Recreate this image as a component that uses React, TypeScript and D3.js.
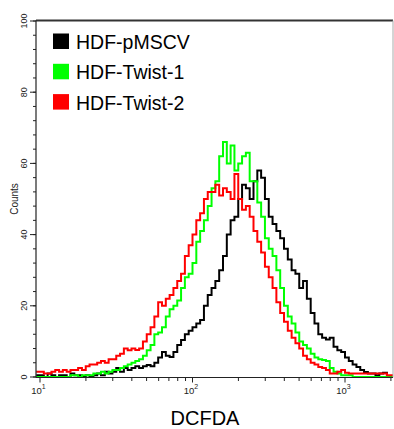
import React from "react";
import * as d3 from "d3";

// ---- Data ----
const LOG_START = 0.975; // log10 of first bin's lower edge
const LOG_STEP = 0.025;  // bin width in log10 units

const seriesNames = ["HDF-pMSCV", "HDF-Twist-1", "HDF-Twist-2"];
const seriesColors = ["#000000", "#00ff00", "#ff0000"];

const pMSCV = [
  0.5, 0.5, 0, 1, 0.5, 0, 0.5, 0.5, 0, 1,
  0.5, 0.5, 0, 0.5, 0, 0.5, 1, 0.5, 1.5, 1,
  1.5, 2.5, 1.5, 2.5, 2, 2.5, 3, 2.5, 3, 3.4,
  3, 4, 5.5, 7, 6, 5.6, 7, 9, 10.4, 12,
  13, 14, 15, 16, 20, 23, 25, 27, 30, 34,
  40, 44, 45, 50, 54, 53, 50, 55, 58, 56,
  50, 45, 43, 41, 39, 36, 33, 30, 29, 25,
  27, 22, 18, 15, 12, 11, 10.5, 11, 8.5, 7.5,
  7, 5.5, 4.5, 3.5, 2.8, 2, 1.4, 1, 1, 0.5,
  1, 1.2, 0.3, 0,
];

const twist1 = [
  0, 0, 0, 0, 0, 0, 0, 0, 0, 0.5,
  0.5, 0, 0.5, 0.5, 0.5, 1, 1, 1.5, 1, 1.5,
  2, 2, 2.5, 3, 3.5, 4, 4.5, 5, 6, 7.5,
  9, 12, 12.5, 14, 17, 19, 20, 21.5, 25, 28,
  29, 32, 38, 41, 44, 48, 53, 55, 62, 66,
  60, 65, 58, 60, 62, 63, 55, 55, 49, 45,
  39, 36, 34, 30, 25, 20, 17, 15, 12.5, 10,
  9, 8, 6.5, 5.5, 5, 4.8, 4.5, 2.5, 1.5, 1,
  0.5, 0.5, 0.5, 0, 0, 0, 0, 0, 0, 0,
  0, 0, 0, 0,
];

const twist2 = [
  1.5, 1.5, 1, 1, 1.5, 2, 1.5, 2, 1.5, 2,
  2, 2.5, 2, 3, 3.5, 3.5, 4, 4.5, 4, 5,
  5, 6, 6.5, 8, 7.5, 8, 7.6, 8, 10, 12,
  14, 17, 21, 20, 22, 23, 25, 27, 29, 34,
  37, 40, 44, 46, 50, 52, 52, 54, 51, 53,
  52, 50, 57, 50, 47, 48, 45, 41, 38, 35,
  31, 28, 25, 21, 18, 15.5, 13, 11, 9.5, 8,
  6, 5, 4, 3.5, 2.8, 2.5, 2, 1, 1, 1.5,
  2, 1.2, 1, 1, 1, 1, 1, 1, 1, 1,
  1, 1, 0.5, 0.5,
];

const seriesValues = [pMSCV, twist1, twist2];

const yMajorTicks = [0, 20, 40, 60, 80, 100];
const yMinorTicks = d3.range(0, 101, 4);
const xMajorTicks = [10, 100, 1000];
const xMinorTicks = [20, 30, 40, 50, 60, 70, 80, 90, 200, 300, 400, 500, 600, 700, 800, 900, 2000];
const xMajorExp = ["1", "2", "3"];

// ---- Layout ----
const W = 394;
const H = 429;
const plotLeft = 36;
const plotRight = 393;
const plotTop = 20.5;
const plotBottom = 377.5;
const FONT = "'Liberation Sans', Arial, Helvetica, sans-serif";

export default function App() {
  const x = d3.scaleLog().domain([10, 1000]).range([40, 345]);
  const y = d3.scaleLinear().domain([0, 100]).range([377, 21]);

  const nBins = pMSCV.length;
  const edges = d3.range(nBins + 1).map((i) => Math.pow(10, LOG_START + i * LOG_STEP));

  const line = d3
    .line<[number, number]>()
    .x((d) => x(d[0]))
    .y((d) => y(d[1]))
    .curve(d3.curveStepAfter);

  const paths = seriesValues.map((vals) => {
    const pts: [number, number][] = vals.map((v, i) => [edges[i], v]);
    pts.push([edges[vals.length], vals[vals.length - 1]]);
    return line(pts) || "";
  });

  return (
    <svg
      width={W}
      height={H}
      style={{ position: "absolute", left: 0, top: 0, background: "#fff" }}
      fontFamily={FONT}
    >
      <defs>
        <clipPath id="plotClip">
          <rect x={plotLeft} y={plotTop - 1} width={plotRight - plotLeft} height={plotBottom - plotTop + 0.5} />
        </clipPath>
      </defs>
      <rect x={0} y={0} width={W} height={H} fill="#fff" />

      {/* histograms */}
      <g clipPath="url(#plotClip)">
        {paths.map((p, i) => (
          <path key={i} d={p} fill="none" stroke={seriesColors[i]} strokeWidth={2} strokeLinejoin="miter" />
        ))}
      </g>

      {/* frame */}
      <line x1={plotLeft} x2={plotRight} y1={plotTop} y2={plotTop} stroke="#333" strokeWidth={1.8} />
      <line x1={plotRight} x2={plotRight} y1={plotTop} y2={plotBottom} stroke="#aaa" strokeWidth={1} />
      <line x1={plotLeft} x2={plotLeft} y1={plotTop} y2={plotBottom} stroke="#222" strokeWidth={1.2} />
      <line x1={plotLeft} x2={plotRight} y1={plotBottom} y2={plotBottom} stroke="#222" strokeWidth={1.2} />

      {/* y ticks */}
      {yMinorTicks.map((t) => (
        <line key={"ym" + t} x1={plotLeft - 3} x2={plotLeft} y1={y(t)} y2={y(t)} stroke="#222" strokeWidth={1} />
      ))}
      {yMajorTicks.map((t) => (
        <g key={"yM" + t}>
          <line x1={plotLeft - 6} x2={plotLeft} y1={y(t)} y2={y(t)} stroke="#222" strokeWidth={1} />
          <text
            transform={`translate(26.5,${y(t)}) rotate(-90)`}
            textAnchor="middle"
            fontSize={9}
            fill="#222"
          >
            {t}
          </text>
        </g>
      ))}
      <text transform={`translate(18,${(plotTop + plotBottom) / 2}) rotate(-90)`} textAnchor="middle" fontSize={10} fill="#222">
        Counts
      </text>

      {/* x ticks */}
      {xMinorTicks.map((t) => (
        <line key={"xm" + t} x1={x(t)} x2={x(t)} y1={plotBottom} y2={plotBottom + 3.5} stroke="#222" strokeWidth={1} />
      ))}
      {xMajorTicks.map((t, i) => (
        <g key={"xM" + t}>
          <line x1={x(t)} x2={x(t)} y1={plotBottom} y2={plotBottom + 5} stroke="#222" strokeWidth={1} />
          <text x={x(t) - 1.5} y={394} textAnchor="middle" fontSize={9.5} fill="#222">
            10
            <tspan dy={-5} fontSize={7}>
              {xMajorExp[i]}
            </tspan>
          </text>
        </g>
      ))}
      <text x={205} y={425} textAnchor="middle" fontSize={20} fill="#000">
        DCFDA
      </text>

      {/* legend */}
      {seriesNames.map((name, i) => (
        <g key={name}>
          <rect x={53} y={33.5 + i * 30.3} width={16} height={15.5} fill={seriesColors[i]} />
          <text x={76} y={49 + i * 30.3} fontSize={19.5} fill="#000">
            {name}
          </text>
        </g>
      ))}
    </svg>
  );
}
